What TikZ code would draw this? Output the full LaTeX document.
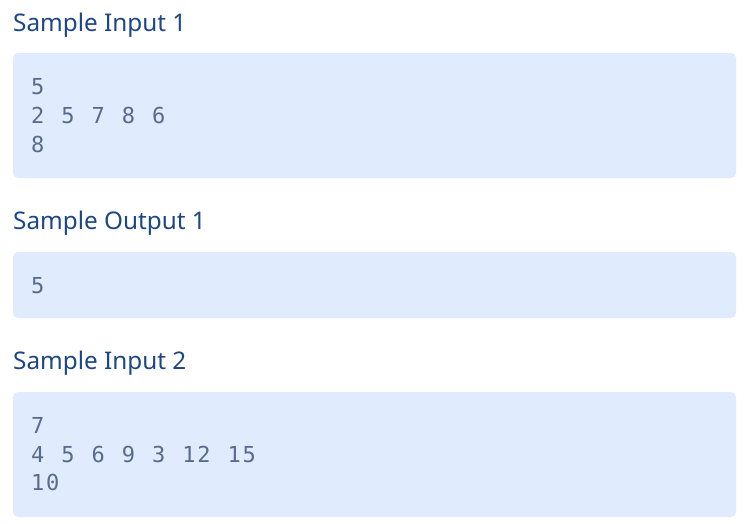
\documentclass[tikz,border=0pt]{standalone}
\usepackage{fontspec}
\setmainfont{Noto Sans}
\newfontfamily\codefont[LetterSpace=8, WordSpace=1.133]{DejaVu Sans Mono}
\usetikzlibrary{positioning}
\definecolor{titleblue}{HTML}{1D4686}
\definecolor{boxfill}{HTML}{E1EBFE}
\definecolor{codegray}{HTML}{5A6A8C}

\begin{document}
\begin{tikzpicture}[x=1pt, y=-1pt,
    title/.style={anchor=base west, inner sep=0pt, text=titleblue, font=\fontsize{24.3}{29}\selectfont},
    sample/.style={fill=boxfill, rounded corners=5pt},
    code/.style={anchor=base west, inner sep=0pt, text=codegray, font=\codefont\fontsize{22}{29}\selectfont}]
    \useasboundingbox (0,0) rectangle (750,523);
    % headings and grey-blue boxes
    \foreach \t/\ty/\by/\bh [count=\i] in {Sample Input 1/31/53/125, Sample Output 1/229/252/66, Sample Input 2/369/392/125} {
        \fill[sample] (13,\by) rectangle (736,\by+\bh);
        \node[title] (title\i) at (13,\ty) {\t};
    }
    % sample text, one line each
    \foreach \x/\y [count=\i] in {5/94, 2 5 7 8 6/123, 8/152, 5/293, 7/433, 4 5 6 9 3 12 15/462, 10/490} {
        \node[code] (line\i) at (31,\y) {\x};
    }
\end{tikzpicture}
\end{document}
